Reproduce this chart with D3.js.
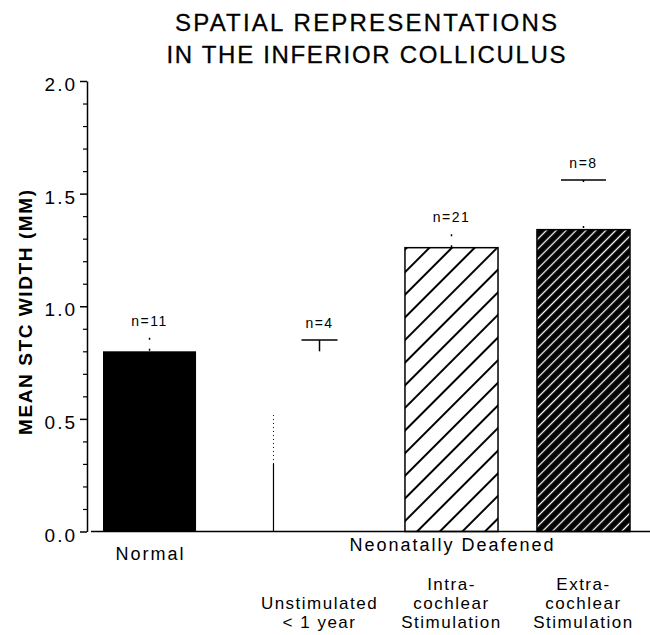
<!DOCTYPE html>
<html>
<head>
<meta charset="utf-8">
<script src="https://cdn.jsdelivr.net/npm/d3@7"></script>
<style>
    body { margin: 0; background: #fff; }
    text { font-family: 'Liberation Sans', Arial, Helvetica, sans-serif; fill: #000; }
</style>
</head>
<body>
<svg id="svg" width="650" height="635"></svg>
<script>
// chart data
let categories = ['Normal', 'Unstimulated', 'Intra', 'Extra'];
let groups = ['Normal', 'Neonatally Deafened', 'Neonatally Deafened', 'Neonatally Deafened'];
let meanWidth = [0.80, 0.80, 1.26, 1.34];
let errorTop = [0.86, 0.85, 1.32, 1.56];
let sampleSizes = ['n=11', 'n=4', 'n=21', 'n=8'];
let subLabels = [
    [],
    ['Unstimulated', '< 1 year'],
    ['Intra-', 'cochlear', 'Stimulation'],
    ['Extra-', 'cochlear', 'Stimulation']
];
let groupLabels = ['Normal', 'Neonatally Deafened'];
let yTicks = [0, 0.5, 1.0, 1.5, 2.0];
let minorTicks = [0.1, 0.2, 0.3, 0.4, 0.6, 0.7, 0.8, 0.9, 1.1, 1.2, 1.3, 1.4, 1.6, 1.7, 1.8, 1.9];
// faint left edge that survives of the unstimulated bar (solid part, dotted part)
let unstimTrace = [0.30, 0.53];
let titleLines = ['SPATIAL REPRESENTATIONS', 'IN THE INFERIOR COLLICULUS'];
let yLabel = 'MEAN STC WIDTH (MM)';

// look of each bar
let barStyle = {
    Normal: { fill: '#000', stroke: 'none', stemDash: '2,9', cap: 0 },
    Unstimulated: { fill: '#fff', stroke: 'none', stemDash: null, cap: 36 },
    Intra: { fill: 'url(#hatchIntra)', stroke: '#000', stemDash: '2,9', cap: 0 },
    Extra: { fill: 'url(#hatchExtra)', stroke: '#000', stemDash: '2,44', cap: 45 }
};

let svg = d3.select('#svg');

let svgWidth = +svg.attr('width');
let svgHeight = +svg.attr('height');

let padding = { t: 81, r: 20, b: 103.5, l: 87 };

let chartWidth = svgWidth - padding.l - padding.r;
let chartHeight = svgHeight - padding.t - padding.b;

// hatch patterns
let defs = svg.append('defs');

let intra = defs.append('pattern')
    .attr('id', 'hatchIntra')
    .attr('patternUnits', 'userSpaceOnUse')
    .attr('width', 16)
    .attr('height', 16)
    .attr('patternTransform', 'rotate(45)');
intra.append('rect').attr('width', 16).attr('height', 16).attr('fill', '#fff');
intra.append('line')
    .attr('x1', 8).attr('y1', 0).attr('x2', 8).attr('y2', 16)
    .attr('stroke', '#000').attr('stroke-width', 2);

let extra = defs.append('pattern')
    .attr('id', 'hatchExtra')
    .attr('patternUnits', 'userSpaceOnUse')
    .attr('width', 7)
    .attr('height', 7)
    .attr('patternTransform', 'rotate(45)');
extra.append('rect').attr('width', 7).attr('height', 7).attr('fill', '#000');
extra.append('line')
    .attr('x1', 3.5).attr('y1', 0).attr('x2', 3.5).attr('y2', 7)
    .attr('stroke', '#fff').attr('stroke-width', 1.3);

// title
svg.selectAll('.title')
    .data(titleLines)
    .enter()
    .append('text')
    .attr('class', 'title')
    .attr('x', 366)
    .attr('y', (d, i) => 31 + i * 32)
    .attr('text-anchor', 'middle')
    .attr('font-size', '24px')
    .attr('stroke', '#000')
    .attr('stroke-width', 0.3)
    .attr('textLength', (d, i) => i == 0 ? 382 : 399)
    .text((d) => d);

let chartG = svg.append('g')
    .attr('transform', 'translate(' + [padding.l, padding.t] + ')');

// scales
let yScale = d3.scaleLinear()
    .domain([0, 2])
    .range([chartHeight, 0]);

let xScale = d3.scaleBand()
    .domain(categories)
    .range([54, 543])
    .paddingInner(0.295);

// normal group sits a bit further left than the deafened ones
let groupGap = 38;

let bars = categories.map((c, i) => ({
    id: c,
    group: groups[i],
    mean: meanWidth[i],
    err: errorTop[i],
    n: sampleSizes[i],
    sub: subLabels[i]
}));

let barX = (d) => xScale(d.id) - (d.group == 'Normal' ? groupGap : 0);
let barMid = (d) => barX(d) + xScale.bandwidth() / 2;

// y axis, major ticks
let yAxis = d3.axisLeft(yScale)
    .tickValues(yTicks)
    .tickSize(7)
    .tickSizeOuter(0)
    .tickPadding(3)
    .tickFormat(d3.format('.1f'));

let yAxisG = chartG.append('g')
    .attr('class', 'y-axis')
    .call(yAxis);

yAxisG.select('.domain').attr('stroke-width', 1.5);
yAxisG.selectAll('.tick line').attr('stroke-width', 1.5);
yAxisG.selectAll('.tick text')
    .attr('font-size', '19px')
    .attr('letter-spacing', '2px')
    .attr('dy', '0.5em')
    .attr('font-family', null);

// minor ticks
chartG.append('g')
    .attr('class', 'y-minor')
    .call(d3.axisLeft(yScale).tickValues(minorTicks).tickSize(4).tickFormat(''))
    .call((g) => g.select('.domain').remove())
    .selectAll('.tick line').attr('stroke-width', 1.2);

// bars
let barG = chartG.selectAll('.bar')
    .data(bars)
    .enter()
    .append('g')
    .attr('class', 'bar');

barG.append('rect')
    .attr('x', (d) => barX(d))
    .attr('y', (d) => yScale(d.mean))
    .attr('width', xScale.bandwidth())
    .attr('height', (d) => chartHeight - yScale(d.mean))
    .attr('fill', (d) => barStyle[d.id].fill)
    .attr('stroke', (d) => barStyle[d.id].stroke)
    .attr('stroke-width', 1.5);

// what is left of the unstimulated bar edge
let unstim = bars[1];
chartG.append('line')
    .attr('x1', barX(unstim) + 0.5).attr('x2', barX(unstim) + 0.5)
    .attr('y1', yScale(0)).attr('y2', yScale(unstimTrace[0]))
    .attr('stroke', '#000').attr('stroke-width', 1.2);
chartG.append('line')
    .attr('x1', barX(unstim) + 0.5).attr('x2', barX(unstim) + 0.5)
    .attr('y1', yScale(unstimTrace[0])).attr('y2', yScale(unstimTrace[1]))
    .attr('stroke', '#000').attr('stroke-width', 1)
    .attr('stroke-dasharray', '1,3');

// error bars
barG.append('line')
    .attr('x1', (d) => barMid(d))
    .attr('x2', (d) => barMid(d))
    .attr('y1', (d) => yScale(d.err))
    .attr('y2', (d) => yScale(d.mean))
    .attr('stroke', '#000')
    .attr('stroke-width', 1.5)
    .attr('stroke-dasharray', (d) => barStyle[d.id].stemDash);

barG.filter((d) => barStyle[d.id].cap > 0)
    .append('line')
    .attr('x1', (d) => barMid(d) - barStyle[d.id].cap / 2)
    .attr('x2', (d) => barMid(d) + barStyle[d.id].cap / 2)
    .attr('y1', (d) => yScale(d.err))
    .attr('y2', (d) => yScale(d.err))
    .attr('stroke', '#000')
    .attr('stroke-width', 1.5);

// sample sizes
barG.append('text')
    .attr('x', (d) => barMid(d))
    .attr('y', (d) => yScale(d.err) - 12)
    .attr('text-anchor', 'middle')
    .attr('font-size', '14px')
    .attr('letter-spacing', '1.5px')
    .text((d) => d.n);

// x baseline
chartG.append('line')
    .attr('x1', 4)
    .attr('x2', svgWidth - padding.l)
    .attr('y1', chartHeight)
    .attr('y2', chartHeight)
    .attr('stroke', '#000')
    .attr('stroke-width', 1.5);

// group labels under the axis
let groupMid = (g) => {
    let members = bars.filter((d) => d.group == g);
    let left = barX(members[0]);
    let right = barX(members[members.length - 1]) + xScale.bandwidth();
    return (left + right) / 2;
};

chartG.selectAll('.group-label')
    .data(groupLabels)
    .enter()
    .append('text')
    .attr('class', 'group-label')
    .attr('x', (d) => groupMid(d))
    .attr('y', (d, i) => chartHeight + (i == 0 ? 28.5 : 19.5))
    .attr('text-anchor', 'middle')
    .attr('font-size', '18px')
    .attr('textLength', (d, i) => i == 0 ? 68 : 204)
    .text((d) => d);

// sub labels, bottom aligned
barG.each(function (d) {
    let lines = d.sub;
    d3.select(this).selectAll('.sub-label')
        .data(lines)
        .enter()
        .append('text')
        .attr('class', 'sub-label')
        .attr('x', barMid(d))
        .attr('y', (t, i) => chartHeight + 96.5 - (lines.length - 1 - i) * 19)
        .attr('text-anchor', 'middle')
        .attr('font-size', '17px')
        .attr('letter-spacing', '1.5px')
        .text((t) => t);
});

// y axis title
svg.append('text')
    .attr('transform', 'translate(32,312.5) rotate(-90)')
    .attr('text-anchor', 'middle')
    .attr('font-size', '19px')
    .attr('font-weight', 'bold')
    .attr('textLength', 245)
    .text(yLabel);
</script>
</body>
</html>
